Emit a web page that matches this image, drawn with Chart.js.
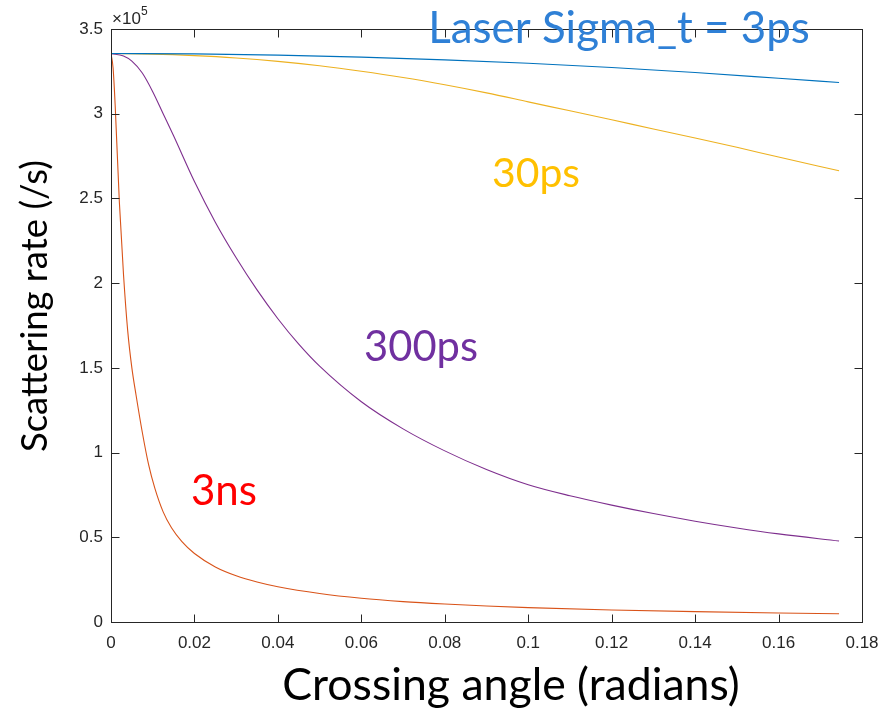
<!DOCTYPE html>
<html>
<head>
<meta charset="utf-8">
<script src="https://cdn.jsdelivr.net/npm/chart.js@4.4.1/dist/chart.umd.min.js"></script>
<style>
  html, body { margin: 0; padding: 0; background: #fff; }
  canvas { display: block; }
</style>
</head>
<body>
<canvas id="grafica" width="880" height="709"></canvas>
<script>
// angulo de cruce (rad) y tasa de scattering (x1e5 /s)
const angulo3ps = [0, 0.02, 0.04, 0.06, 0.08, 0.10, 0.12, 0.14, 0.16, 0.1745];
const tasa3ps   = [3.355, 3.353, 3.346, 3.334, 3.318, 3.298, 3.273, 3.243, 3.209, 3.184];

const angulo30ps = [0, 0.01, 0.02, 0.03, 0.04, 0.05, 0.06, 0.07, 0.08, 0.09, 0.10, 0.11, 0.12, 0.13, 0.14, 0.15, 0.16, 0.1745];
const tasa30ps   = [3.355, 3.352, 3.343, 3.329, 3.309, 3.283, 3.251, 3.214, 3.171, 3.123, 3.070, 3.017, 2.964, 2.910, 2.857, 2.802, 2.744, 2.663];

const angulo300ps = [0, 0.003, 0.005, 0.0075, 0.01, 0.0125, 0.015, 0.02, 0.025, 0.03, 0.035, 0.04, 0.045, 0.05,
                     0.06, 0.07, 0.08, 0.09, 0.10, 0.11, 0.12, 0.13, 0.14, 0.15, 0.16, 0.1745];
const tasa300ps   = [3.355, 3.34, 3.31, 3.24, 3.13, 3.00, 2.87, 2.60, 2.36, 2.15, 1.96, 1.79, 1.64, 1.51,
                     1.30, 1.14, 1.01, 0.90, 0.81, 0.745, 0.69, 0.64, 0.595, 0.555, 0.52, 0.478];

const angulo3ns = [0, 0.0005, 0.001, 0.002, 0.003, 0.004, 0.005, 0.006, 0.0075, 0.009, 0.0105, 0.0125, 0.0145, 0.017,
                   0.02, 0.025, 0.03, 0.035, 0.04, 0.05, 0.06, 0.07, 0.08, 0.09, 0.10, 0.12, 0.14, 0.16, 0.1745];
const tasa3ns   = [3.355, 3.27, 3.05, 2.48, 2.05, 1.72, 1.50, 1.34, 1.12, 0.93, 0.79, 0.65, 0.556, 0.474,
                   0.404, 0.325, 0.273, 0.236, 0.208, 0.168, 0.140, 0.1205, 0.106, 0.094, 0.085, 0.071, 0.061, 0.053, 0.0485];

const ticksX = [0, 0.02, 0.04, 0.06, 0.08, 0.10, 0.12, 0.14, 0.16, 0.18];
const ticksY = [0, 0.5, 1, 1.5, 2, 2.5, 3, 3.5];

function puntos(xs, ys) {
  return xs.map((x, i) => ({ x: x, y: ys[i] }));
}

// texto ajustado al ancho que ocupa en la figura
function texto(ctx, t, cx, base, ancho, color, rot) {
  ctx.save();
  ctx.font = '100px Lato';
  const size = 100 * ancho / ctx.measureText(t).width;
  ctx.font = size.toFixed(1) + 'px Lato';
  ctx.fillStyle = color;
  ctx.textAlign = 'center';
  ctx.textBaseline = 'alphabetic';
  ctx.translate(cx, base);
  if (rot) ctx.rotate(rot);
  ctx.fillText(t, 0, 0);
  ctx.restore();
}

const marco = {
  id: 'marco',
  afterDatasetsDraw(chart) {
    const ctx = chart.ctx;
    const a = chart.chartArea;
    const sx = chart.scales.x, sy = chart.scales.y;
    const l = Math.round(a.left) + 0.5, r = Math.round(a.right) + 0.5;
    const t = Math.round(a.top) + 0.5, b = Math.round(a.bottom) + 0.5;
    ctx.save();
    ctx.strokeStyle = '#262626';
    ctx.lineWidth = 1;
    ctx.strokeRect(l, t, r - l, b - t);
    ctx.beginPath();
    ticksX.forEach(v => {
      const px = Math.round(sx.getPixelForValue(v)) + 0.5;
      ctx.moveTo(px, b); ctx.lineTo(px, b - 8);
      ctx.moveTo(px, t); ctx.lineTo(px, t + 8);
    });
    ticksY.forEach(v => {
      const py = Math.round(sy.getPixelForValue(v)) + 0.5;
      ctx.moveTo(l, py); ctx.lineTo(l + 8, py);
      ctx.moveTo(r, py); ctx.lineTo(r - 8, py);
    });
    ctx.stroke();

    // exponente del eje y
    ctx.fillStyle = '#262626';
    ctx.textAlign = 'left';
    ctx.textBaseline = 'alphabetic';
    ctx.font = '17px "Liberation Sans"';
    ctx.fillText('\u00d710', a.left + 1, 24);
    ctx.font = '12px "Liberation Sans"';
    ctx.fillText('5', a.left + 30, 15);
    ctx.restore();

    // titulos de ejes y etiquetas
    texto(ctx, 'Crossing angle (radians)', 511, 700, 457, '#000000');
    texto(ctx, 'Scattering rate (/s)', 47, 306, 292, '#000000', -Math.PI / 2);
    texto(ctx, 'Laser Sigma_t = 3ps', 619, 43, 382, '#2F80D6');
    texto(ctx, '30ps', 536, 187, 88, '#FFC000');
    texto(ctx, '300ps', 421, 361, 114, '#7030A0');
    texto(ctx, '3ns', 224, 505, 66, '#FF0000');
  }
};

const serie = (nombre, xs, ys, color) => ({
  label: nombre,
  data: puntos(xs, ys),
  borderColor: color,
  borderWidth: 1.1,
  pointRadius: 0,
  fill: false,
  cubicInterpolationMode: 'monotone'
});

new Chart(document.getElementById('grafica'), {
  type: 'line',
  data: {
    datasets: [
      serie('3ps', angulo3ps, tasa3ps, '#0072BD'),
      serie('3ns', angulo3ns, tasa3ns, '#D95319'),
      serie('30ps', angulo30ps, tasa30ps, '#EDB120'),
      serie('300ps', angulo300ps, tasa300ps, '#7E2F8E')
    ]
  },
  options: {
    responsive: false,
    animation: false,
    layout: { padding: { left: 0, right: 18, top: 29, bottom: 0 } },
    plugins: { legend: { display: false }, tooltip: { enabled: false } },
    scales: {
      x: {
        type: 'linear',
        min: 0,
        max: 0.18,
        afterBuildTicks: s => { s.ticks = ticksX.map(v => ({ value: v })); },
        afterFit: s => { s.height = 87; s.paddingLeft = 0; s.paddingRight = 0; },
        grid: { display: false, drawTicks: false },
        border: { display: false },
        ticks: {
          padding: 11,
          maxRotation: 0,
          color: '#262626',
          font: { family: '"Liberation Sans"', size: 17 },
          callback: v => String(Number(v.toFixed(2)))
        }
      },
      y: {
        min: 0,
        max: 3.5,
        afterBuildTicks: s => { s.ticks = ticksY.map(v => ({ value: v })); },
        afterFit: s => { s.width = 111; s.paddingTop = 0; s.paddingBottom = 0; },
        grid: { display: false, drawTicks: false },
        border: { display: false },
        ticks: {
          padding: 8,
          color: '#262626',
          font: { family: '"Liberation Sans"', size: 17 },
          callback: v => String(v)
        }
      }
    }
  },
  plugins: [marco]
});
</script>
</body>
</html>
